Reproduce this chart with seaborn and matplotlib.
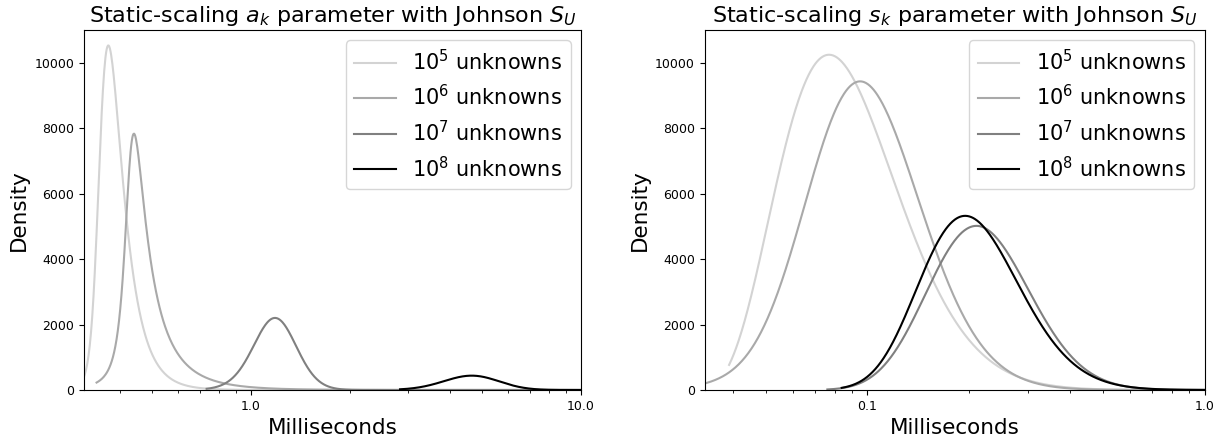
import numpy as np
import pandas as pd
import matplotlib
matplotlib.use("Agg")
import matplotlib.pyplot as plt
import seaborn as sns
from matplotlib.ticker import FuncFormatter, NullFormatter

# Problem sizes and line shades
labels = [r"$10^5$ unknowns", r"$10^6$ unknowns", r"$10^7$ unknowns", r"$10^8$ unknowns"]
colors = ["lightgray", "darkgray", "gray", "black"]

# Johnson S_U fits of the a_k timings (seconds): shape a, shape b, loc, scale
ak_a = [-1.59686, -0.946871, -2.22339, -44.552]
ak_b = [1.33345, 0.793504, 3.81798, 6.27013]
ak_loc = [3.39624e-4, 4.26465e-4, 8.40102e-4, -9.73821e-4]
ak_scale = [3.28381e-5, 3.08142e-5, 5.94301e-4, 9.49322e-6]
ak_start = [0.30e-3, 0.3405e-3, 0.734e-3, 2.829e-3]

# Johnson S_U fits of the s_k timings (seconds)
sk_a = [-11.7088, -3.266, -17.7803, -4.36363]
sk_b = [1.56344, 1.91265, 2.45378, 2.04658]
sk_loc = [2.73169e-5, 3.00372e-5, 3.08575e-5, 6.33111e-5]
sk_scale = [8.35428e-8, 3.18784e-5, 3.02437e-7, 4.01049e-5]
sk_start = [0.03888e-3, 0.030e-3, 0.07606e-3, 0.0839e-3]

SQRT2PI = np.sqrt(2 * np.pi)


def johnsonsu_pdf(x, a, b, loc, scale):
    z = (x - loc) / scale
    return b / (scale * SQRT2PI) / np.sqrt(1 + z * z) * np.exp(-0.5 * (a + b * np.arcsinh(z)) ** 2)


def density_frame(a_s, b_s, locs, scales, starts, xmax):
    frames = []
    for lab, a, b, loc, scale, st in zip(labels, a_s, b_s, locs, scales, starts):
        x = np.geomspace(st, xmax, 800)
        frames.append(pd.DataFrame({"seconds": x,
                                    "density": johnsonsu_pdf(x, a, b, loc, scale),
                                    "size": lab}))
    return pd.concat(frames, ignore_index=True)


fig = plt.figure(figsize=(12.25, 4.37), dpi=100)
ax1 = fig.add_axes([0.0686, 0.1076, 0.4057, 0.8238])
ax2 = fig.add_axes([0.5752, 0.1076, 0.4082, 0.8238])

panels = [
    (ax1, density_frame(ak_a, ak_b, ak_loc, ak_scale, ak_start, 1e-2), (0.312e-3, 1e-2),
     r"Static-scaling $a_k$ parameter with Johnson $S_U$"),
    (ax2, density_frame(sk_a, sk_b, sk_loc, sk_scale, sk_start, 1e-3), (0.0329e-3, 1e-3),
     r"Static-scaling $s_k$ parameter with Johnson $S_U$"),
]

ms_fmt = FuncFormatter(lambda v, p: f"{v * 1e3:.1f}")

for ax, df, xlim, title in panels:
    sns.lineplot(data=df, x="seconds", y="density", hue="size", hue_order=labels,
                 palette=colors, estimator=None, sort=False, lw=1.5, ax=ax)
    ax.set_xscale("log")
    ax.set_xlim(*xlim)
    ax.set_ylim(0, 11000)
    ax.xaxis.set_major_formatter(ms_fmt)
    ax.xaxis.set_minor_formatter(NullFormatter())
    ax.tick_params(labelsize=9)
    ax.set_title(title, fontsize=16)
    ax.set_xlabel("Milliseconds", fontsize=15.5)
    ax.set_ylabel("Density", fontsize=15.5)
    sns.move_legend(ax, "upper right", title=None, fontsize=15)

fig.savefig("out.png", dpi=100)
